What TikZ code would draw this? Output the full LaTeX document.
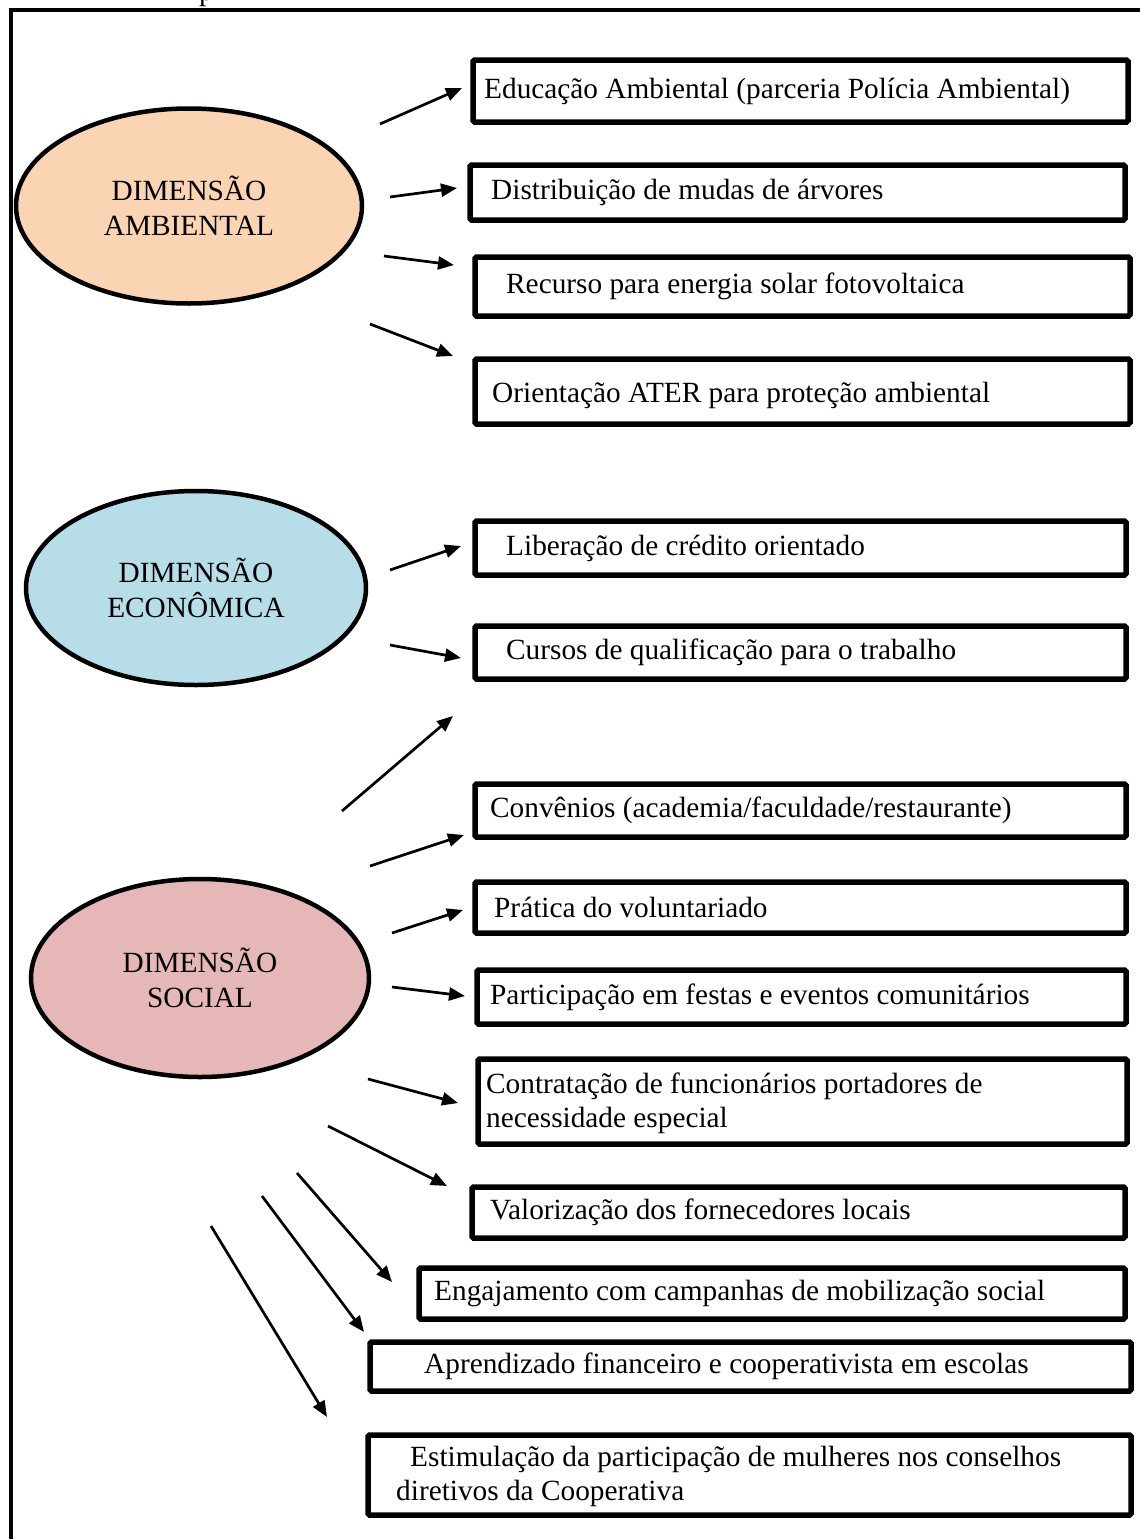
\documentclass[tikz,border=0pt]{standalone}
\usepackage{fontspec}
\setmainfont{Liberation Serif}
\usetikzlibrary{arrows.meta,shapes.geometric}
\definecolor{ambc}{HTML}{FBD4B4}
\definecolor{ecoc}{HTML}{B6DDE8}
\definecolor{socc}{HTML}{E5B8B7}
\newcommand{\fsz}{\fontsize{29.3}{34}\selectfont}
\tikzset{
  bx/.style={draw, line width=5.5pt, rectangle, rounded corners=1.5pt, inner sep=0pt},
  txt/.style={font=\fsz, inner sep=0pt, anchor=west, align=left},
  ell/.style={draw, line width=4.5pt, ellipse, inner sep=0pt, font=\fontsize{29.3}{35}\selectfont, align=center},
  arr/.style={line width=2.7pt, -{Triangle[length=16pt,width=13pt]}}
}
\begin{document}
\begin{tikzpicture}[x=1pt,y=-1pt]
\useasboundingbox (0,0) rectangle (1140,1539);
\clip (0,0) rectangle (1140,1539);
\fill[white] (0,0) rectangle (1140,1539);
% frame
\draw[line width=4.2pt] (11,1600) -- (11,10) -- (1200,10);
\node[font=\fsz, anchor=base west, inner sep=0pt] (ptop) at (199,0.5) {p};

% ellipses
\node[ell, fill=ambc, minimum width=346pt, minimum height=195pt] (amb) at (189,206) {DIMENSÃO\\AMBIENTAL};
\node[ell, fill=ecoc, minimum width=340pt, minimum height=194pt] (eco) at (196,588) {DIMENSÃO\\ECONÔMICA};
\node[ell, fill=socc, minimum width=338pt, minimum height=198pt] (soc) at (200,978) {DIMENSÃO\\SOCIAL};

% boxes: center, size (center-line)
\node[bx, minimum width=655pt, minimum height=62pt] (b1) at (800.5,91) {};
\node[txt] (t1) at (484,91) {Educação Ambiental (parceria Polícia Ambiental)};
\node[bx, minimum width=655pt, minimum height=55pt] (b2) at (797.5,192.5) {};
\node[txt] (t2) at (491,192.5) {Distribuição de mudas de árvores};
\node[bx, minimum width=655pt, minimum height=59pt] (b3) at (802.5,286.5) {};
\node[txt] (t3) at (506,286.5) {Recurso para energia solar fotovoltaica};
\node[bx, minimum width=655pt, minimum height=65pt] (b4) at (802.5,391.5) {};
\node[txt] (t4) at (492,395) {Orientação ATER para proteção ambiental};

\node[bx, minimum width=651pt, minimum height=54pt] (b5) at (800.5,548) {};
\node[txt] (t5) at (506,548) {Liberação de crédito orientado};
\node[bx, minimum width=651pt, minimum height=53pt] (b6) at (800.5,652.5) {};
\node[txt] (t6) at (506,652.5) {Cursos de qualificação para o trabalho};

\node[bx, minimum width=651pt, minimum height=53pt] (b7) at (800.5,810.5) {};
\node[txt] (t7) at (490,810.5) {Convênios (academia/faculdade/restaurante)};
\node[bx, minimum width=651pt, minimum height=51pt] (b8) at (800.5,907.5) {};
\node[txt] (t8) at (494,907.5) {Prática do voluntariado};
\node[bx, minimum width=649pt, minimum height=54pt] (b9) at (801.5,997) {};
\node[txt] (t9) at (490,997) {Participação em festas e eventos comunitários};
\node[bx, minimum width=649pt, minimum height=85pt] (b10) at (802.5,1101.5) {};
\node[txt] (t10) at (486,1103) {Contratação de funcionários portadores de\\necessidade especial};
\node[bx, minimum width=653pt, minimum height=51pt] (b11) at (798.5,1212.5) {};
\node[txt] (t11) at (490,1212.5) {Valorização dos fornecedores locais};
\node[bx, minimum width=706pt, minimum height=51pt] (b12) at (772,1293.5) {};
\node[txt] (t12) at (434,1293.5) {Engajamento com campanhas de mobilização social};
\node[bx, minimum width=761pt, minimum height=49pt] (b13) at (750.5,1366.5) {};
\node[txt] (t13) at (424,1366.5) {Aprendizado financeiro e cooperativista em escolas};
\node[bx, minimum width=763pt, minimum height=80pt] (b14) at (749.5,1475) {};
\node[txt] (t14) at (396,1476) {\hspace*{14pt}Estimulação da participação de mulheres nos conselhos\\diretivos da Cooperativa};

% arrow end points
\coordinate (a1s) at (380,124); \coordinate (a1e) at (462,88);
\coordinate (a2s) at (390,197); \coordinate (a2e) at (457,188);
\coordinate (a3s) at (384,256); \coordinate (a3e) at (454,265);
\coordinate (a4s) at (370,324); \coordinate (a4e) at (453,356);
\coordinate (e1s) at (390,570); \coordinate (e1e) at (461,546);
\coordinate (e2s) at (390,645); \coordinate (e2e) at (461,658);
\coordinate (e3s) at (342,811); \coordinate (e3e) at (453,716);
\coordinate (s1s) at (370,866); \coordinate (s1e) at (464,835);
\coordinate (s2s) at (392,933); \coordinate (s2e) at (463,910);
\coordinate (s3s) at (392,987); \coordinate (s3e) at (465,996);
\coordinate (s4s) at (368,1079); \coordinate (s4e) at (458,1103);
\coordinate (s5s) at (328,1126); \coordinate (s5e) at (447,1186);
\coordinate (s6s) at (297,1173); \coordinate (s6e) at (392,1282);
\coordinate (s7s) at (262,1196); \coordinate (s7e) at (364,1332);
\coordinate (s8s) at (211,1226); \coordinate (s8e) at (327,1417);

\foreach \n in {a1,a2,a3,a4,e1,e2,e3,s1,s2,s3,s4,s5,s6,s7,s8}
  \draw[arr] (\n s) -- (\n e);
\end{tikzpicture}
\end{document}
